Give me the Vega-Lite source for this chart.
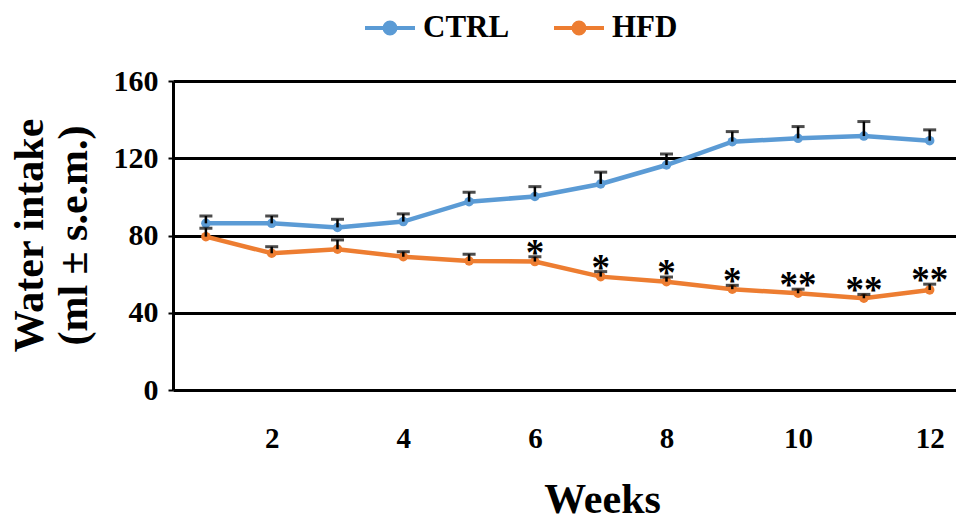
{
  "$schema": "https://vega.github.io/schema/vega-lite/v6.json",
  "width": 783,
  "height": 309,
  "autosize": {"type": "none"},
  "padding": {"left": 173, "top": 81, "right": 0, "bottom": 132},
  "background": "white",
  "config": {
    "view": {"stroke": null},
    "font": "Liberation Serif"
  },
  "data": {
    "values": [
      {"week": 1, "group": "CTRL", "mean": 86.3, "hi": 90.1, "sig": ""},
      {"week": 2, "group": "CTRL", "mean": 86.3, "hi": 90.1, "sig": ""},
      {"week": 3, "group": "CTRL", "mean": 84.2, "hi": 88.4, "sig": ""},
      {"week": 4, "group": "CTRL", "mean": 87.2, "hi": 91.2, "sig": ""},
      {"week": 5, "group": "CTRL", "mean": 97.5, "hi": 102.4, "sig": ""},
      {"week": 6, "group": "CTRL", "mean": 100.2, "hi": 105.3, "sig": ""},
      {"week": 7, "group": "CTRL", "mean": 106.7, "hi": 112.8, "sig": ""},
      {"week": 8, "group": "CTRL", "mean": 116.5, "hi": 122.2, "sig": ""},
      {"week": 9, "group": "CTRL", "mean": 128.6, "hi": 133.8, "sig": ""},
      {"week": 10, "group": "CTRL", "mean": 130.3, "hi": 136.4, "sig": ""},
      {"week": 11, "group": "CTRL", "mean": 131.5, "hi": 139.0, "sig": ""},
      {"week": 12, "group": "CTRL", "mean": 129.1, "hi": 134.7, "sig": ""},
      {"week": 1, "group": "HFD", "mean": 79.4, "hi": 83.8, "sig": ""},
      {"week": 2, "group": "HFD", "mean": 70.8, "hi": 74.2, "sig": ""},
      {"week": 3, "group": "HFD", "mean": 72.9, "hi": 77.7, "sig": ""},
      {"week": 4, "group": "HFD", "mean": 69.0, "hi": 71.6, "sig": ""},
      {"week": 5, "group": "HFD", "mean": 66.8, "hi": 70.3, "sig": ""},
      {"week": 6, "group": "HFD", "mean": 66.5, "hi": 69.0, "sig": "*"},
      {"week": 7, "group": "HFD", "mean": 58.7, "hi": 61.3, "sig": "*"},
      {"week": 8, "group": "HFD", "mean": 56.1, "hi": 58.5, "sig": "*"},
      {"week": 9, "group": "HFD", "mean": 52.2, "hi": 54.2, "sig": "*"},
      {"week": 10, "group": "HFD", "mean": 50.1, "hi": 52.2, "sig": "**"},
      {"week": 11, "group": "HFD", "mean": 47.5, "hi": 49.5, "sig": "**"},
      {"week": 12, "group": "HFD", "mean": 51.8, "hi": 54.8, "sig": "**"}
    ]
  },
  "encoding": {
    "x": {
      "field": "week",
      "type": "quantitative",
      "scale": {"domain": [0.5, 12.4], "nice": false, "zero": false},
      "axis": {
        "values": [2, 4, 6, 8, 10, 12],
        "domain": false,
        "ticks": false,
        "grid": false,
        "labelFont": "Liberation Serif",
        "labelFontWeight": "bold",
        "labelFontSize": 29,
        "labelColor": "black",
        "labelPadding": 34,
        "title": "Weeks",
        "titleFont": "Liberation Serif",
        "titleFontWeight": "bold",
        "titleFontSize": 42,
        "titleColor": "black",
        "titleX": 429,
        "titleY": 109,
        "titleBaseline": "middle",
        "titleAlign": "center"
      }
    }
  },
  "layer": [
    {
      "mark": {"type": "line", "strokeWidth": 4.5},
      "encoding": {
        "y": {
          "field": "mean",
          "type": "quantitative",
          "scale": {"domain": [0, 160], "nice": false},
          "axis": {
            "values": [0, 40, 80, 120, 160],
            "grid": true,
            "gridColor": "black",
            "gridWidth": 3,
            "gridOpacity": 1,
            "domain": true,
            "domainColor": "black",
            "domainWidth": 3,
            "ticks": true,
            "tickSize": 5,
            "tickColor": "black",
            "tickWidth": 2,
            "labelFont": "Liberation Serif",
            "labelFontWeight": "bold",
            "labelFontSize": 30,
            "labelColor": "black",
            "labelPadding": 10,
            "title": ["Water intake", "(ml ± s.e.m.)"],
            "titleFont": "Liberation Serif",
            "titleFontWeight": "bold",
            "titleFontSize": 42,
            "titleColor": "black",
            "titleAngle": -90,
            "titleX": -164,
            "titleY": 154,
            "titleAlign": "center",
            "titleBaseline": "top",
            "titleLineHeight": 44
          }
        },
        "color": {
          "field": "group",
          "type": "nominal",
          "scale": {"domain": ["CTRL", "HFD"], "range": ["#5b9bd5", "#ed7d31"]},
          "legend": {
            "title": null,
            "orient": "none",
            "direction": "horizontal",
            "legendX": 190,
            "legendY": -80,
            "symbolType": "M-1,0L-0.22,0M0.22,0L1,0M-0.22,0A0.22,0.22,0,1,1,0.22,0A0.22,0.22,0,1,1,-0.22,0Z",
            "symbolSize": 2500,
            "symbolStrokeWidth": 4,
            "labelFont": "Liberation Serif",
            "labelFontWeight": "bold",
            "labelFontSize": 31,
            "labelColor": "black",
            "labelOffset": 6,
            "columnPadding": 36,
            "encode": {
              "symbols": {
                "update": {
                  "fill": {"scale": "color", "field": "value"},
                  "fillOpacity": {"value": 1}
                }
              }
            }
          }
        }
      }
    },
    {
      "mark": {"type": "point", "filled": true, "size": 90, "opacity": 1},
      "encoding": {
        "y": {"field": "mean", "type": "quantitative"},
        "color": {"field": "group", "type": "nominal", "legend": null}
      }
    },
    {
      "mark": {"type": "rule", "color": "black", "strokeWidth": 2.5},
      "encoding": {
        "y": {"field": "mean", "type": "quantitative"},
        "y2": {"field": "hi"}
      }
    },
    {
      "mark": {"type": "tick", "orient": "horizontal", "color": "black", "thickness": 3, "size": 13},
      "encoding": {
        "y": {"field": "hi", "type": "quantitative"}
      }
    },
    {
      "mark": {"type": "text", "fontSize": 37, "fontWeight": "bold", "font": "Liberation Serif", "color": "black", "baseline": "alphabetic", "dy": 8},
      "encoding": {
        "y": {"field": "hi", "type": "quantitative"},
        "text": {"field": "sig"}
      }
    }
  ]
}
